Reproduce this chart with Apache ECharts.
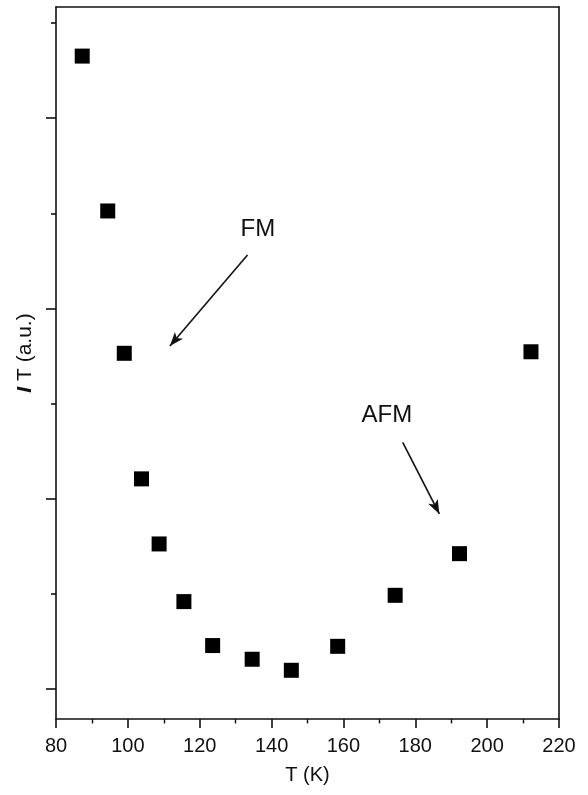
<!DOCTYPE html>
<html>
<head>
<meta charset="utf-8">
<script src="https://cdn.jsdelivr.net/npm/echarts@6/dist/echarts.min.js"></script>
<style>
html,body{margin:0;padding:0;background:#fff;}
#chart{width:588px;height:795px;}
</style>
</head>
<body>
<div id="chart"></div>
<script>
// Data
var tempK = [87.3, 94.4, 99.0, 103.8, 108.7, 115.6, 123.6, 134.6, 145.5, 158.4, 174.4, 192.3, 212.2];
var intensityT = [3.326, 2.512, 1.764, 1.104, 0.762, 0.459, 0.228, 0.156, 0.098, 0.224, 0.492, 0.711, 1.772];
var xTicks = [80, 100, 120, 140, 160, 180, 200, 220];
var yMajorTicks = [0, 1, 2, 3];
var yMinorTicks = [0.5, 1.5, 2.5, 3.5];
var annotLabels = ['FM', 'AFM'];
var annotLabelX = [136.2, 172.1];
var annotLabelY = [2.415, 1.44];
var arrowStartX = [133.3, 176.5];
var arrowStartY = [2.281, 1.296];
var arrowEndX = [111.7, 186.7];
var arrowEndY = [1.802, 0.920];

var C = '#111';
var FONT = 'Liberation Sans, Arial, sans-serif';

var chart = echarts.init(document.getElementById('chart'));
var pts = tempK.map(function (t, i) { return [t, intensityT[i]]; });
var labelPts = annotLabels.map(function (s, i) { return { value: [annotLabelX[i], annotLabelY[i]], name: s }; });
var arrows = annotLabels.map(function (s, i) {
  return [{ coord: [arrowStartX[i], arrowStartY[i]] }, { coord: [arrowEndX[i], arrowEndY[i]] }];
});

chart.setOption({
  animation: false,
  backgroundColor: '#fff',
  grid: { left: 56, right: 29, top: 7, bottom: 76, containLabel: false },
  xAxis: [{
    type: 'value', min: xTicks[0], max: xTicks[xTicks.length - 1], interval: 20,
    position: 'bottom',
    name: 'T (K)', nameLocation: 'middle', nameGap: 46,
    nameTextStyle: { fontSize: 20, color: C, fontFamily: FONT },
    axisLine: { show: true, onZero: false, lineStyle: { color: C, width: 1.6 } },
    axisTick: { show: true, inside: false, length: 9, lineStyle: { color: C, width: 1.6 } },
    minorTick: { show: true, splitNumber: 2, length: 4.5, lineStyle: { color: C, width: 1.4 } },
    axisLabel: { fontSize: 20, color: C, fontFamily: FONT, margin: 17 },
    splitLine: { show: false }
  }, {
    type: 'value', min: xTicks[0], max: xTicks[xTicks.length - 1], position: 'top',
    axisLine: { show: true, onZero: false, lineStyle: { color: C, width: 1.6 } },
    axisTick: { show: false }, axisLabel: { show: false }, splitLine: { show: false }
  }],
  yAxis: [{
    type: 'value', min: -0.158, max: 3.584, position: 'left',
    axisLine: { show: true, onZero: false, lineStyle: { color: C, width: 1.6 } },
    axisTick: { show: true, inside: false, length: 10, customValues: yMajorTicks, lineStyle: { color: C, width: 1.6 } },
    axisLabel: { show: false },
    splitLine: { show: false }
  }, {
    type: 'value', min: -0.158, max: 3.584, position: 'left', offset: 0,
    axisLine: { show: false },
    axisTick: { show: true, inside: false, length: 5, customValues: yMinorTicks, lineStyle: { color: C, width: 1.6 } },
    axisLabel: { show: false },
    splitLine: { show: false }
  }, {
    type: 'value', min: -0.158, max: 3.584, position: 'right',
    axisLine: { show: true, onZero: false, lineStyle: { color: C, width: 1.6 } },
    axisTick: { show: false }, axisLabel: { show: false }, splitLine: { show: false }
  }],
  series: [{
    type: 'scatter', xAxisIndex: 0, yAxisIndex: 0,
    symbol: 'rect', symbolSize: 15,
    itemStyle: { color: '#000', opacity: 1 },
    data: pts,
    markLine: {
      silent: true, symbol: ['none', 'arrow'], symbolSize: [8, 14],
      lineStyle: { color: C, width: 1.6, type: 'solid', opacity: 1 },
      label: { show: false },
      data: arrows
    }
  }, {
    type: 'scatter', xAxisIndex: 0, yAxisIndex: 0,
    symbolSize: 0, silent: true,
    itemStyle: { opacity: 1 },
    data: labelPts,
    label: {
      show: true, position: 'inside', formatter: '{b}',
      fontSize: 24, color: C, fontFamily: FONT, opacity: 1
    }
  }],
  graphic: [{
    type: 'text', x: 25, y: 353, rotation: Math.PI / 2,
    style: {
      text: '{i|I} T (a.u.)',
      fill: C, font: '21px ' + FONT,
      align: 'center', verticalAlign: 'middle',
      rich: { i: { fontStyle: 'italic', fontWeight: 'bold', fontSize: 21, fontFamily: FONT, fill: C } }
    }
  }]
});
</script>
</body>
</html>
